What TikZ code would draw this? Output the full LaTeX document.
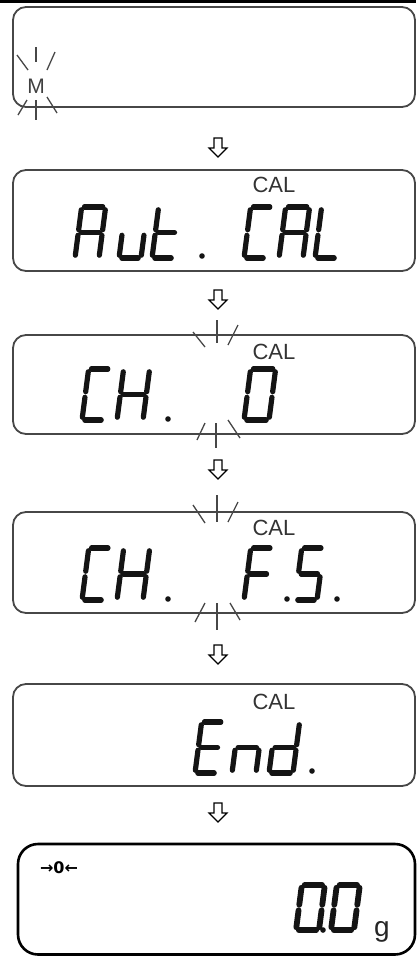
\documentclass[tikz,border=0pt]{standalone}
\usepackage{fontspec}
\setmainfont{Liberation Sans}
\newfontfamily\arrowfont{DejaVu Sans}
\usetikzlibrary{calc}
\tikzset{
  lcd/.style={draw=black!72, line width=1.8pt, rounded corners=13pt},
  lcdlast/.style={draw=black, line width=2.6pt, rounded corners=20pt},
  seg/.style={line width=5.2pt, line cap=round, draw=black!92},
  segbig/.style={line width=5.8pt, line cap=round, draw=black!92},
  ray/.style={line width=1.3pt, draw=black!72},
  blockarrow/.style={draw=black, line width=1.2pt, fill=white, line join=miter},
  caltext/.style={font=\fontsize{22}{22}\selectfont, text=black!80, inner sep=0pt},
  mtext/.style={font=\fontsize{21}{21}\selectfont, text=black!75, inner sep=0pt},
  zerotext/.style={font=\arrowfont\fontsize{16}{16}\selectfont\bfseries, text=black, inner sep=0pt},
  unittext/.style={font=\fontsize{28}{28}\selectfont, text=black!85, inner sep=0pt},
}
\newcommand{\gp}{2.8pt}
\newcommand{\slnt}{0.13}
\newcommand{\segstyle}{seg}
\newcommand{\segcell}[4]{%
  \coordinate (BL) at (#1,#2);
  \coordinate (BR) at ({#1+#3},#2);
  \coordinate (ML) at ({#1+\slnt*#4/2},{#2-#4/2});
  \coordinate (MR) at ({#1+#3+\slnt*#4/2},{#2-#4/2});
  \coordinate (TL) at ({#1+\slnt*#4},{#2-#4});
  \coordinate (TR) at ({#1+#3+\slnt*#4},{#2-#4});
}
\newcommand{\sgm}[2]{\draw[\segstyle] ($(#1)!\gp!(#2)$) -- ($(#2)!\gp!(#1)$);}
\newcommand{\sgA}{\sgm{TL}{TR}}
\newcommand{\sgB}{\sgm{TR}{MR}}
\newcommand{\sgC}{\sgm{MR}{BR}}
\newcommand{\sgD}{\sgm{BL}{BR}}
\newcommand{\sgE}{\sgm{ML}{BL}}
\newcommand{\sgF}{\sgm{TL}{ML}}
\newcommand{\sgG}{\sgm{ML}{MR}}
\newcommand{\chA}{\sgA\sgB\sgC\sgE\sgF\sgG}
\newcommand{\chU}{\sgC\sgD\sgE}
\newcommand{\chT}{\sgD\sgE\sgF\sgG}
\newcommand{\chC}{\sgA\sgD\sgE\sgF}
\newcommand{\chL}{\sgD\sgE\sgF}
\newcommand{\chH}{\sgB\sgC\sgE\sgF\sgG}
\newcommand{\chO}{\sgA\sgB\sgC\sgD\sgE\sgF}
\newcommand{\chF}{\sgA\sgE\sgF\sgG}
\newcommand{\chS}{\sgA\sgF\sgG\sgC\sgD}
\newcommand{\chE}{\sgA\sgD\sgE\sgF\sgG}
\newcommand{\chN}{\sgC\sgE\sgG}
\newcommand{\chD}{\sgB\sgC\sgD\sgE\sgG}
\newcommand{\segdot}[2]{\fill[black!92] (#1,#2) circle (2.8);}
\newcommand{\blockdown}[2]{%
  \draw[blockarrow] ({#1-4},#2) -- ({#1+4},#2) -- ({#1+4},{#2+10}) -- ({#1+9},{#2+10})
    -- (#1,{#2+19}) -- ({#1-9},{#2+10}) -- ({#1-4},{#2+10}) -- cycle;}
\begin{document}
\begin{tikzpicture}[x=1pt,y=-1pt]
\useasboundingbox (0,0) rectangle (416,956);
% top rule
\fill[black] (0,0) rectangle (416,2.6);

% ---------- display 1 ----------
\draw[lcd] (13,7) rectangle (415,107);
\node[mtext] (m) at (36,86) {M};
\draw[ray] (36,47) -- (36,62);
\draw[ray] (17,55) -- (28,70);
\draw[ray] (55,52) -- (47,70);
\draw[ray] (36,100) -- (36,120);
\draw[ray] (18,115) -- (27,100);
\draw[ray] (57,113) -- (47,97);
\blockdown{218}{138}

% ---------- display 2 ----------
\draw[lcd] (13,170) rectangle (415,271);
\node[caltext] (cal1) at (274,185) {CAL};
\segcell{75}{258}{24}{51}\chA
\segcell{119}{258}{22}{51}\chU
\segcell{152}{258}{22}{51}\chT
\segdot{202}{256}
\segcell{244}{258}{22}{51}\chC
\segcell{279}{258}{24}{51}\chA
\segcell{315}{258}{22}{51}\chL
\blockdown{218}{290}

% ---------- display 3 ----------
\draw[lcd] (13,335) rectangle (415,434);
\node[caltext] (cal2) at (274,352) {CAL};
\segcell{82}{420}{22}{51}\chC
\segcell{117}{420}{26}{51}\chH
\segdot{168}{419}
\segcell{244}{420}{25}{51}\chO
\draw[ray] (217,320) -- (217,343);
\draw[ray] (193,332) -- (205,347);
\draw[ray] (238,325) -- (228,345);
\draw[ray] (216,423) -- (216,448);
\draw[ray] (197,440) -- (205,423);
\draw[ray] (240,438) -- (228,420);
\blockdown{218}{460}

% ---------- display 4 ----------
\draw[lcd] (13,512) rectangle (415,613);
\node[caltext] (cal3) at (274,528) {CAL};
\segcell{82}{600}{22}{52}\chC
\segcell{117}{600}{26}{52}\chH
\segdot{168}{599}
\segcell{244}{600}{22}{52}\chF
\segdot{287}{599}
\segcell{295}{600}{22}{52}\chS
\segdot{337}{599}
\draw[ray] (217,495) -- (217,522);
\draw[ray] (193,505) -- (205,523);
\draw[ray] (238,502) -- (228,522);
\draw[ray] (217,603) -- (217,630);
\draw[ray] (195,622) -- (205,603);
\draw[ray] (240,620) -- (230,603);
\blockdown{218}{645}

% ---------- display 5 ----------
\draw[lcd] (13,684) rectangle (415,786);
\node[caltext] (cal4) at (274,702) {CAL};
\segcell{195}{773}{22}{51}\chE
\segcell{232}{773}{24}{51}\chN
\segcell{269}{773}{24}{51}\chD
\segdot{312}{771}
\blockdown{218}{803}

% ---------- display 6 ----------
\draw[lcdlast] (18,844) rectangle (415,954.5);
\node[zerotext] (zero) at (59,868) {→0←};
\renewcommand{\segstyle}{segbig}
\segcell{296}{930}{23}{45}\chO
\segdot{323}{930}
\segcell{331}{930}{23}{45}\chO
\node[unittext] (unit) at (382,932) {g};
\end{tikzpicture}
\end{document}
